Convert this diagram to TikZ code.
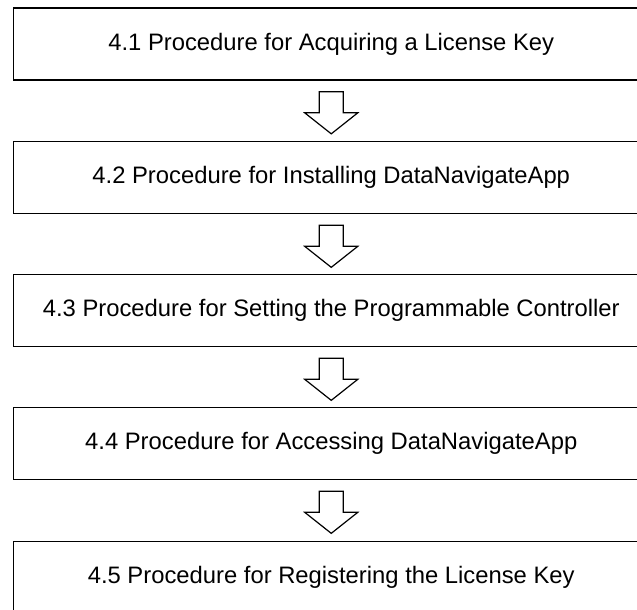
\documentclass[tikz,border=0pt]{standalone}
\usepackage{fontspec}
\setmainfont{Liberation Sans}
\begin{document}
\begin{tikzpicture}[x=1pt,y=1pt,
  stepbox/.style={draw=black, line width=1.7pt, minimum width=635.5pt, minimum height=72pt, inner sep=0pt, font=\fontsize{23.8}{28}\selectfont, anchor=center},
  hollow/.style={draw=black, line width=1.2pt, fill=white, line join=miter}]
\useasboundingbox (0,0) rectangle (637,610);
\node[stepbox] (b1) at (331.25,566) {4.1 Procedure for Acquiring a License Key};
\node[stepbox] (b2) at (331.25,432.5) {4.2 Procedure for Installing DataNavigateApp};
\node[stepbox] (b3) at (331.25,299.5) {4.3 Procedure for Setting the Programmable Controller};
\node[stepbox] (b4) at (331.25,166.5) {4.4 Procedure for Accessing DataNavigateApp};
\node[stepbox] (b5) at (331.25,32.5) {4.5 Procedure for Registering the License Key};
\foreach \a in {b1,b2,b3,b4}{
  \draw[hollow] ([xshift=-12pt,yshift=-11pt]\a.south) -- ([xshift=12pt,yshift=-11pt]\a.south)
    -- ([xshift=12pt,yshift=-32pt]\a.south) -- ([xshift=26.5pt,yshift=-32pt]\a.south)
    -- ([yshift=-53pt]\a.south) -- ([xshift=-26.5pt,yshift=-32pt]\a.south)
    -- ([xshift=-12pt,yshift=-32pt]\a.south) -- cycle;
}
\end{tikzpicture}
\end{document}
